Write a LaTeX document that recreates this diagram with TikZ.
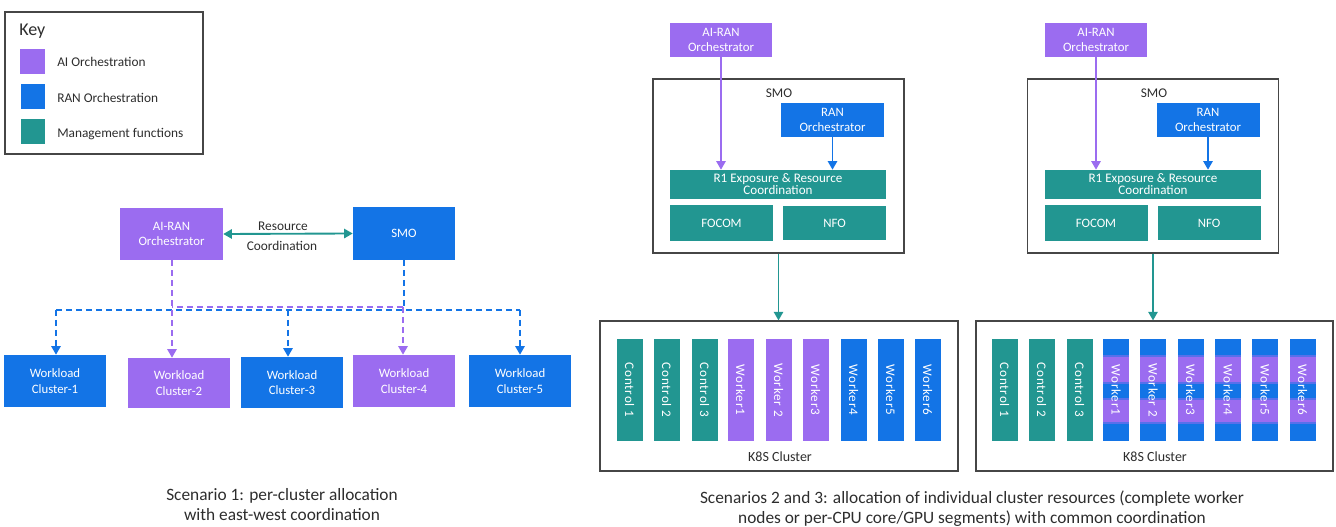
\documentclass[tikz,border=0pt]{standalone}
\usepackage{fontspec}
\setmainfont{Carlito}
\usetikzlibrary{arrows.meta}
\definecolor{aip}{RGB}{155,108,240}
\definecolor{ranb}{RGB}{19,116,230}
\definecolor{mgt}{RGB}{34,150,145}
\definecolor{txt}{RGB}{45,45,45}
\definecolor{frame}{RGB}{70,70,70}
\newlength\px \setlength\px{0.75pt}
\begin{document}
\begin{tikzpicture}[x=0.75pt,y=-0.75pt,
  cbox/.style={inner sep=0pt, align=center, text=white, font=\fontsize{9.6}{11.5}\selectfont},
  pbox/.style={cbox, fill=aip},
  bbox/.style={cbox, fill=ranb},
  tbox/.style={cbox, fill=mgt},
  vbox/.style={inner sep=0pt, text=white, rotate=-90, minimum width=102\px, minimum height=26\px,
     font=\fontsize{9.8}{11}\selectfont\addfontfeatures{LetterSpace=6}},
  frm/.style={draw=frame, line width=0.8pt},
  lbl/.style={text=txt, inner sep=0pt, align=center, font=\fontsize{10}{12}\selectfont},
  captext/.style={text=txt, inner sep=0pt, align=center, font=\fontsize{13}{15}\selectfont},
  arr/.style={-{Triangle[width=7pt,length=6.5pt]}},
  pdash/.style={draw=aip, line width=1.5pt, dash pattern=on 6\px off 4\px},
  bdash/.style={draw=ranb, line width=1.5pt, dash pattern=on 6\px off 4\px},
  pline/.style={draw=aip, line width=1.4pt},
  bline/.style={draw=ranb, line width=1.4pt},
  tline/.style={draw=mgt, line width=1.4pt}
]
\useasboundingbox (0,0) rectangle (1336,527);

% ---------- Key ----------
\node[frm, minimum width=198\px, minimum height=142\px, inner sep=0pt] (key) at (104,83) {};
\node[text=txt, anchor=west, inner sep=0pt, font=\fontsize{13.5}{15}\selectfont] (keyt) at (19,31) {Key};
\node[fill=aip, minimum width=25\px, minimum height=25\px, inner sep=0pt] (k1) at (32.5,61.5) {};
\node[fill=ranb, minimum width=24\px, minimum height=25\px, inner sep=0pt] (k2) at (33,96.5) {};
\node[fill=mgt, minimum width=24\px, minimum height=25\px, inner sep=0pt] (k3) at (33,131.5) {};
\node[lbl, anchor=west] (k1t) at (57,62) {AI Orchestration};
\node[lbl, anchor=west] (k2t) at (57,98) {RAN Orchestration};
\node[lbl, anchor=west] (k3t) at (57,134) {Management functions};

% ---------- Scenario 1 ----------
\node[pbox, minimum width=103\px, minimum height=52\px] (ai1) at (171.5,234) {AI-RAN\\Orchestrator};
\node[bbox, minimum width=102\px, minimum height=53\px] (smo1) at (404,233.5) {SMO};
\draw[tline, {Triangle[width=7pt,length=6.5pt]}-{Triangle[width=7pt,length=6.5pt]}] (ai1.east) -- (smo1.west);
\node[lbl] (rc1) at (283,226) {Resource};
\node[lbl] (rc2) at (282,246) {Coordination};

\node[bbox, minimum width=102\px, minimum height=52\px] (wc1) at (55,381) {Workload\\Cluster-1};
\node[pbox, minimum width=102\px, minimum height=50\px] (wc2) at (179,383) {Workload\\Cluster-2};
\node[bbox, minimum width=102\px, minimum height=51\px] (wc3) at (292,382.5) {Workload\\Cluster-3};
\node[pbox, minimum width=102\px, minimum height=52\px] (wc4) at (404,381) {Workload\\Cluster-4};
\node[bbox, minimum width=102\px, minimum height=52\px] (wc5) at (520,381) {Workload\\Cluster-5};

\coordinate (bl) at (56,310);
\coordinate (b3) at (288,310);
\coordinate (br) at (520,310);
\coordinate (bj) at (404,310);
\coordinate (pj1) at (172,307);
\coordinate (pj2) at (403,307);

\draw[bdash] (bl) -- (br);
\draw[bdash] (smo1.south) -- (bj);
\draw[pdash, dash phase=5\px] (pj1) -- (pj2);
\draw[pdash, arr] (pj1 |- ai1.south) -- (pj1 |- wc2.north);
\draw[pdash, arr] (pj2) -- (pj2 |- wc4.north);
\draw[bdash, arr] (bl) -- (bl |- wc1.north);
\draw[bdash, arr] (b3) -- (b3 |- wc3.north);
\draw[bdash, arr] (br) -- (br |- wc5.north);

\node[captext] (cap1) at (282,505) {Scenario 1: per-cluster allocation\\with east-west coordination};

% ---------- Scenario 2 ----------
\node[frm, minimum width=251\px, minimum height=174\px, inner sep=0pt] (smo2) at (778.5,166) {};
\node[lbl] (smo2t) at (779,93) {SMO};
\node[pbox, minimum width=102\px, minimum height=34\px] (ai2) at (721,40) {AI-RAN\\Orchestrator};
\node[bbox, minimum width=103\px, minimum height=34\px] (ran2) at (832.5,120) {RAN\\Orchestrator};
\node[tbox, minimum width=216\px, minimum height=29\px, font=\fontsize{9.8}{9}\selectfont] (r1a) at (778,184.5) {R1 Exposure \& Resource\\Coordination};
\node[tbox, minimum width=103\px, minimum height=36\px] (focom2) at (721.5,223) {FOCOM};
\node[tbox, minimum width=103\px, minimum height=34\px] (nfo2) at (834.5,223) {NFO};
\draw[pline, arr] (ai2.south) -- (ai2.south |- r1a.north);
\draw[bline, arr] (ran2.south) -- (ran2.south |- r1a.north);

\node[frm, minimum width=358\px, minimum height=150\px, inner sep=0pt] (k8s2) at (779,396) {};
\draw[tline, arr] (smo2.south) -- (smo2.south |- k8s2.north);
\node[lbl, font=\fontsize{10.5}{12}\selectfont] (k8s2t) at (780,457) {K8S Cluster};

\node[vbox, fill=mgt] (c21) at (629.5,390) {Control 1};
\node[vbox, fill=mgt] (c22) at (666.5,390) {Control 2};
\node[vbox, fill=mgt] (c23) at (704.5,390) {Control 3};
\node[vbox, fill=aip] (w21) at (740.5,390) {Worker1};
\node[vbox, fill=aip] (w22) at (778.5,390) {Worker 2};
\node[vbox, fill=aip] (w23) at (815.5,390) {Worker3};
\node[vbox, fill=ranb] (w24) at (853.5,390) {Worker4};
\node[vbox, fill=ranb] (w25) at (890.5,390) {Worker5};
\node[vbox, fill=ranb] (w26) at (927.5,390) {Worker6};

\node[captext] (cap2) at (972,509) {Scenarios 2 and 3: allocation of individual cluster resources (complete worker\\nodes or per-CPU core/GPU segments) with common coordination};

% ---------- Scenario 3 ----------
\node[frm, minimum width=251\px, minimum height=174\px, inner sep=0pt] (smo3) at (1153,166) {};
\node[lbl] (smo3t) at (1154,93) {SMO};
\node[pbox, minimum width=102\px, minimum height=34\px] (ai3) at (1096,40) {AI-RAN\\Orchestrator};
\node[bbox, minimum width=103\px, minimum height=34\px] (ran3) at (1208,120) {RAN\\Orchestrator};
\node[tbox, minimum width=216\px, minimum height=29\px, font=\fontsize{9.8}{9}\selectfont] (r1b) at (1153,184.5) {R1 Exposure \& Resource\\Coordination};
\node[tbox, minimum width=103\px, minimum height=36\px] (focom3) at (1096,223) {FOCOM};
\node[tbox, minimum width=103\px, minimum height=34\px] (nfo3) at (1209,223) {NFO};
\draw[pline, arr] (ai3.south) -- (ai3.south |- r1b.north);
\draw[bline, arr] (ran3.south) -- (ran3.south |- r1b.north);

\node[frm, minimum width=357\px, minimum height=150\px, inner sep=0pt] (k8s3) at (1154.5,396) {};
\draw[tline, arr] (smo3.south) -- (smo3.south |- k8s3.north);
\node[lbl, font=\fontsize{10.5}{12}\selectfont] (k8s3t) at (1155,457) {K8S Cluster};

\node[vbox, fill=mgt] (c31) at (1004.5,390) {Control 1};
\node[vbox, fill=mgt] (c32) at (1041.5,390) {Control 2};
\node[vbox, fill=mgt] (c33) at (1079.5,390) {Control 3};
\foreach \i/\x/\t in {1/1116/Worker1, 2/1153/Worker 2, 3/1190.5/Worker3, 4/1228/Worker4, 5/1265/Worker5, 6/1302.5/Worker6}{
  \fill[ranb] (\x-13,339) rectangle (\x+13,441);
  \fill[aip!50!ranb] (\x-13,355) rectangle (\x+13,384);
  \fill[aip!50!ranb] (\x-13,398) rectangle (\x+13,424);
  \fill[aip] (\x-13,357) rectangle (\x+13,382);
  \fill[aip] (\x-13,400) rectangle (\x+13,422);
  \node[vbox] (w3\i) at (\x,390) {\t};
}
\end{tikzpicture}
\end{document}
